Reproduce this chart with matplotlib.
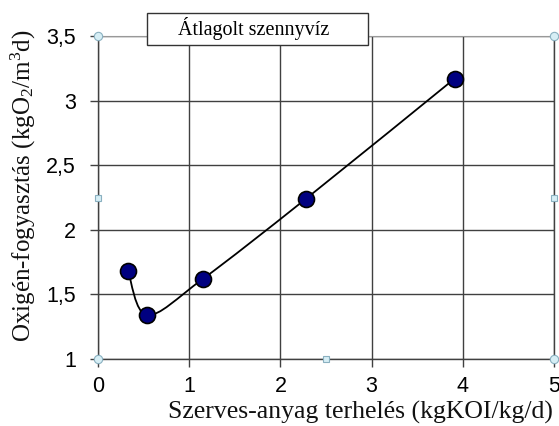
import matplotlib
matplotlib.use("Agg")
import matplotlib.pyplot as plt
import numpy as np
from matplotlib.path import Path
from matplotlib.patches import PathPatch, Rectangle

plt.rcParams["mathtext.fontset"] = "custom"
plt.rcParams["mathtext.rm"] = "Liberation Serif"
plt.rcParams["mathtext.it"] = "Liberation Serif:italic"

# Data
load = [0.33, 0.54, 1.15, 2.28, 3.91]
oxygen = [1.68, 1.34, 1.62, 2.24, 3.17]
xticks = [0, 1, 2, 3, 4, 5]
yticks = [1, 1.5, 2, 2.5, 3, 3.5]
ytick_labels = ["1", "1,5", "2", "2,5", "3", "3,5"]
series_name = "Átlagolt szennyvíz"

fig = plt.figure(figsize=(5.59, 4.26), dpi=100)
ax = fig.add_axes([98 / 559, 67 / 426, 456 / 559, 323 / 426])
ax.set_xlim(0, 5)
ax.set_ylim(1, 3.5)

grid_c = "#404040"
ax.set_xticks(xticks)
ax.set_yticks(yticks)
ax.set_yticklabels(ytick_labels)
ax.grid(True, color=grid_c, lw=1.0)
ax.tick_params(direction="out", length=6, width=1.0, color=grid_c,
               labelsize=15.5)
ax.tick_params(axis="y", pad=10)
ax.tick_params(axis="x", pad=6)
for lab in ax.get_xticklabels() + ax.get_yticklabels():
    lab.set_fontfamily("Liberation Sans")
for side in ["left", "bottom", "right"]:
    ax.spines[side].set_color(grid_c)
    ax.spines[side].set_linewidth(1.0)
ax.spines["top"].set_color("#999999")

# smoothed line (Excel-like bezier through the points, in screen space)
pts = ax.transData.transform(np.column_stack([load, oxygen]))
verts = [pts[0]]
codes = [Path.MOVETO]
n = len(pts)
for i in range(n - 1):
    p0 = pts[i - 1] if i > 0 else pts[i]
    p1, p2 = pts[i], pts[i + 1]
    p3 = pts[i + 2] if i + 2 < n else pts[i + 1]
    c1 = p1 + (p2 - p0) / 6
    c2 = p2 - (p3 - p1) / 6
    verts += [c1, c2, p2]
    codes += [Path.CURVE4] * 3
verts = ax.transData.inverted().transform(np.array(verts))
ax.add_patch(PathPatch(Path(verts, codes), fill=False, lw=1.3,
                       edgecolor="black", zorder=3))
ax.plot(load, oxygen, ls="none", marker="o", ms=11.5, mfc="#000080",
        mec="black", mew=1.2, zorder=4)

# axis titles
fig.text(360 / 559, 7 / 426, "Szerves-anyag terhelés (kgKOI/kg/d)",
         fontfamily="Liberation Serif", fontsize=18.5, color="#111111",
         ha="center", va="baseline")
fig.text(23 / 559, 1 - 186 / 426, "Oxigén-fogyasztás (kgO$_2$/m$^3$d)",
         fontfamily="Liberation Serif", fontsize=18, color="#111111",
         ha="center", va="center", rotation=90)

# series name box
fig.add_artist(Rectangle((147 / 559, 1 - 45 / 426), 221 / 559, 32 / 426,
                         transform=fig.transFigure, facecolor="white",
                         edgecolor="#333333", lw=1.0, zorder=5))
fig.text(178 / 559, 1 - 29 / 426, series_name, fontfamily="Liberation Serif",
         fontsize=14.5, va="center", ha="left", zorder=6)

# selection handles of the plot area
handle_c = "#d6eef5"
for hx, hy in [(0, 3.5), (5, 3.5), (0, 1), (5, 1)]:
    ax.plot(hx, hy, marker="o", ms=6, mfc=handle_c, mec="#8ab0c0", mew=0.8,
            clip_on=False, zorder=6)
for hx, hy in [(0, 2.25), (5, 2.25), (2.5, 1)]:
    ax.plot(hx, hy, marker="s", ms=5, mfc=handle_c, mec="#8ab0c0", mew=0.8,
            clip_on=False, zorder=6)

fig.savefig("out.png", dpi=100)
